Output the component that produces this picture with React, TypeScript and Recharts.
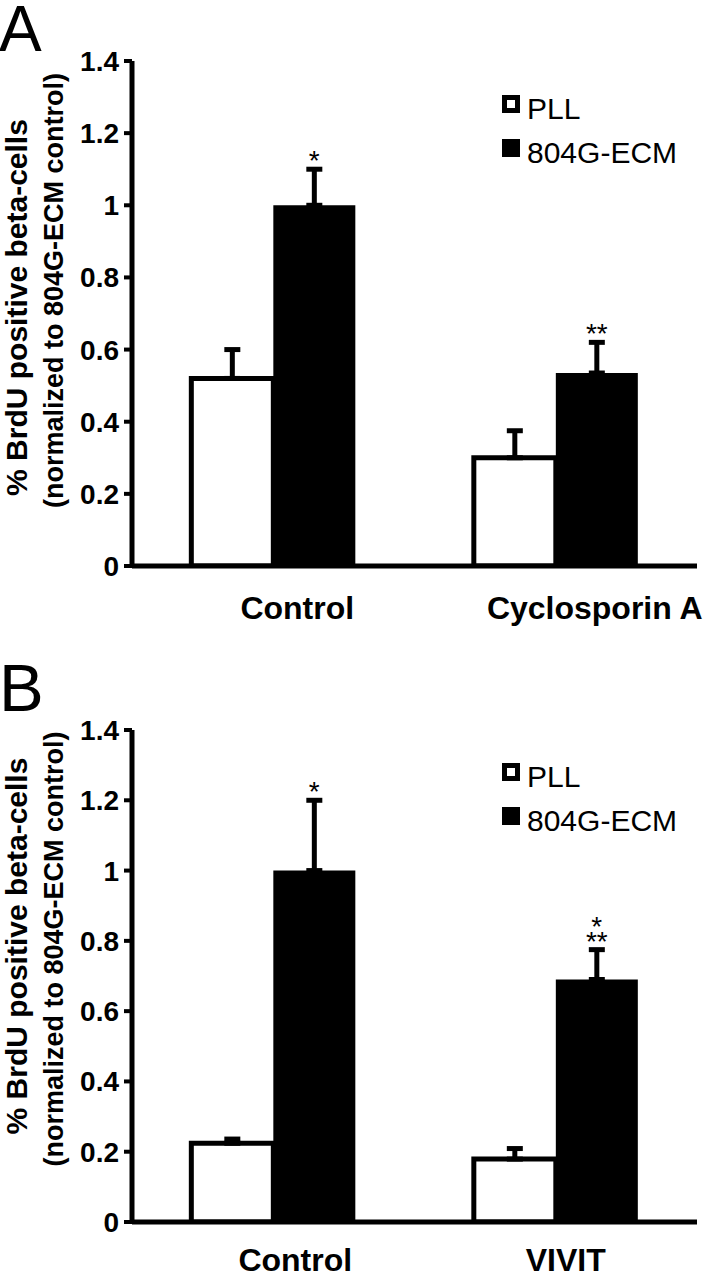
import React from 'react';
import { BarChart, Bar, XAxis, YAxis, ErrorBar, LabelList, Legend } from 'recharts';

const FONT = "'Liberation Sans', Arial, Helvetica, sans-serif";

// Panel A
const categoriesA = ['Control', 'Cyclosporin A'];
const pllA = [0.52, 0.3];
const pllErrA = [0.08, 0.075];
const ecmA = [1.0, 0.535];
const ecmErrA = [0.1, 0.085];
const starsA = [['*'], ['**']];

// Panel B
const categoriesB = ['Control', 'VIVIT'];
const pllB = [0.224, 0.179];
const pllErrB = [0.012, 0.03];
const ecmB = [1.0, 0.69];
const ecmErrB = [0.2, 0.085];
const starsB = [['*'], ['*', '**']];

const seriesNames = ['PLL', '804G-ECM'];
const yTicks = [0, 0.2, 0.4, 0.6, 0.8, 1, 1.2, 1.4];
const edgeTicks = [0, 1, 2];
const yLabel1 = '% BrdU positive beta-cells';
const yLabel2 = '(normalized to 804G-ECM control)';

function YLabel(props: any) {
  const vb = props.viewBox || { x: 0, y: 61, width: 132, height: 506 };
  const cy = vb.y + vb.height / 2;
  return (
    <g>
      <text
        transform={`translate(${vb.x + 27}, ${cy + props.s1}) rotate(-90)`}
        textAnchor="middle"
        fontSize={30}
        fontWeight="bold"
        fill="#000"
        fontFamily={FONT}
      >
        {yLabel1}
      </text>
      <text
        transform={`translate(${vb.x + 63}, ${cy + props.s2}) rotate(-90)`}
        textAnchor="middle"
        fontSize={27}
        fontWeight="bold"
        fill="#000"
        fontFamily={FONT}
      >
        {yLabel2}
      </text>
    </g>
  );
}

function CatTick(props: any) {
  const { x, y, payload, index, dxs, dy } = props;
  return (
    <text
      x={x + (dxs[index] || 0)}
      y={y + dy}
      textAnchor="middle"
      fontSize={32}
      fontWeight="bold"
      fill="#000"
      fontFamily={FONT}
    >
      {payload.value}
    </text>
  );
}

function LegendBox(props: any) {
  const payload = [...(props.payload || [])].sort(
    (a: any, b: any) => seriesNames.indexOf(a.value) - seriesNames.indexOf(b.value)
  );
  return (
    <div style={{ fontFamily: FONT }}>
      {payload.map((entry: any, i: number) => (
        <div key={i} style={{ display: 'flex', alignItems: 'flex-start', height: 44 }}>
          <div
            style={{
              width: 18,
              height: 18,
              boxSizing: 'border-box',
              border: '5px solid #000',
              background: entry.color,
              marginRight: 7,
              flex: 'none',
            }}
          />
          <span style={{ fontSize: 30, lineHeight: '28px', color: '#000', whiteSpace: 'nowrap' }}>
            {entry.value}
          </span>
        </div>
      ))}
    </div>
  );
}

function makeStarLabel(vals: number[], errs: number[], stars: string[][]) {
  return function StarLabel(props: any) {
    const vb = props.viewBox && props.viewBox.width !== undefined ? props.viewBox : props;
    const { x, y, width, height } = vb;
    const index = props.index;
    const v = vals[index];
    if (!v || !height) return null;
    const pxPerUnit = Math.abs(height) / v;
    const capY = Math.min(y, y + height) - errs[index] * pxPerUnit;
    const lines = stars[index];
    const n = lines.length;
    return (
      <g>
        {lines.map((s, k) => (
          <text
            key={k}
            x={x + width / 2}
            y={capY + 1 - (n - 1 - k) * 15}
            textAnchor="middle"
            fontSize={28}
            fill="#000"
            fontFamily={FONT}
          >
            {s}
          </text>
        ))}
      </g>
    );
  };
}

function Panel(p: any) {
  const data = p.cats.map((c: string, i: number) => ({
    name: c,
    pll: p.pll[i],
    pllErr: [0, p.pllErr[i]],
    ecm: p.ecm[i],
    ecmErr: [0, p.ecmErr[i]],
  }));
  const StarLabel = makeStarLabel(p.ecm, p.ecmErr, p.stars);
  return (
    <div style={{ position: 'absolute', left: 0, top: p.top }}>
      <BarChart
        width={706}
        height={p.height}
        data={data}
        margin={{ top: 61, right: 9, left: 0, bottom: 0 }}
        barCategoryGap="21%"
        barGap={0}
      >
        <XAxis
          xAxisId="a"
          type="number"
          domain={[0, 2]}
          ticks={edgeTicks}
          tick={false}
          tickSize={8}
          tickLine={{ stroke: '#000', strokeWidth: 4 }}
          axisLine={{ stroke: '#000', strokeWidth: 5 }}
          height={1}
          allowDataOverflow
        />
        <XAxis
          xAxisId="b"
          dataKey="name"
          axisLine={false}
          tickLine={false}
          tickSize={0}
          tickMargin={0}
          interval={0}
          height={p.xh}
          tick={<CatTick dxs={p.dxs} dy={p.labelDy} />}
        />
        <YAxis
          domain={[0, 1.4]}
          ticks={yTicks}
          interval={0}
          width={132}
          allowDataOverflow
          axisLine={{ stroke: '#000', strokeWidth: 5 }}
          tickLine={{ stroke: '#000', strokeWidth: 4 }}
          tickSize={8}
          tickMargin={5}
          tick={{ fill: '#000', fontSize: 28, fontWeight: 'bold', fontFamily: FONT }}
          label={<YLabel s1={p.s1} s2={p.s2} />}
        />
        <Legend
          layout="vertical"
          align="center"
          verticalAlign="middle"
          content={<LegendBox />}
          wrapperStyle={{ left: 502, top: p.legendTop, width: 200 }}
        />
        <Bar
          xAxisId="b"
          dataKey="pll"
          name={seriesNames[0]}
          fill="#fff"
          stroke="#000"
          strokeWidth={5}
          isAnimationActive={false}
        >
          <ErrorBar dataKey="pllErr" direction="y" width={8} strokeWidth={5} stroke="#000" />
        </Bar>
        <Bar xAxisId="b" dataKey="ecm" name={seriesNames[1]} fill="#000" isAnimationActive={false}>
          <ErrorBar dataKey="ecmErr" direction="y" width={8} strokeWidth={5} stroke="#000" />
          <LabelList dataKey="ecm" content={<StarLabel />} />
        </Bar>
      </BarChart>
    </div>
  );
}

export default function App() {
  return (
    <div
      style={{
        position: 'absolute',
        left: 0,
        top: 0,
        width: 706,
        height: 1280,
        overflow: 'hidden',
        background: '#fff',
        fontFamily: FONT,
      }}
    >
      <Panel
        top={0}
        height={640}
        xh={73}
        cats={categoriesA}
        pll={pllA}
        pllErr={pllErrA}
        ecm={ecmA}
        ecmErr={ecmErrA}
        stars={starsA}
        dxs={[24, 39]}
        labelDy={52}
        s1={-6}
        s2={-23}
        legendTop={95}
      />
      <Panel
        top={669}
        height={611}
        xh={57}
        cats={categoriesB}
        pll={pllB}
        pllErr={pllErrB}
        ecm={ecmB}
        ecmErr={ecmErrB}
        stars={starsB}
        dxs={[22, 10]}
        labelDy={48}
        s1={-30}
        s2={-27}
        legendTop={94}
      />
      <div
        style={{
          position: 'absolute',
          left: -1,
          top: 0,
          fontSize: 64,
          lineHeight: '58px',
          color: '#000',
          fontFamily: FONT,
        }}
      >
        A
      </div>
      <div
        style={{
          position: 'absolute',
          left: -1,
          top: 657,
          fontSize: 67,
          lineHeight: '61px',
          color: '#000',
          fontFamily: FONT,
        }}
      >
        B
      </div>
    </div>
  );
}
